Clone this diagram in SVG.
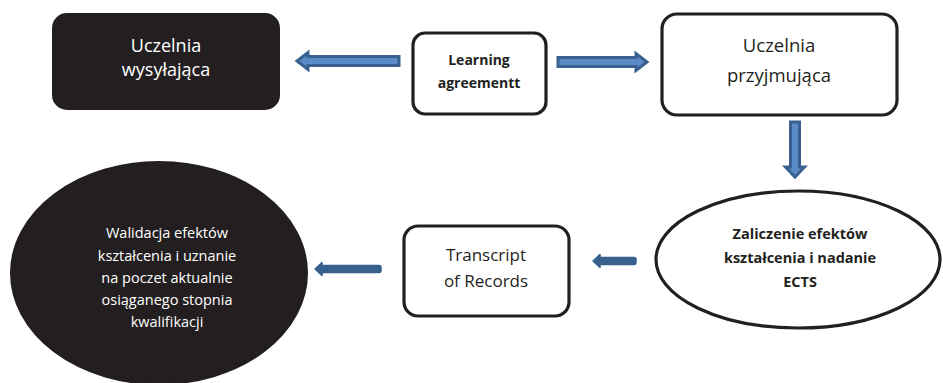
<svg xmlns="http://www.w3.org/2000/svg" width="943" height="383" viewBox="0 0 943 383">
  <style>
    .box { fill: #ffffff; stroke: #231f20; stroke-width: 3.2; }
    .dark { fill: #231f20; stroke: #231f20; stroke-width: 2; }
    .t { font-family: "Open Sans", "Liberation Sans", sans-serif; text-anchor: middle; fill: #231f20; }
    .w { fill: #ffffff; }
    .b { font-weight: bold; }
    .dbl { fill: #5a8bc6; stroke: #386191; stroke-width: 3; stroke-linejoin: miter; }
    .sol { fill: #38608e; stroke: #38608e; stroke-width: 1.5; stroke-linejoin: round; }
  </style>
  <rect width="943" height="383" fill="#ffffff"/>

  <g id="connectors">
    <polygon class="dbl" points="297,61 308,52.5 308,56.5 399,56.5 399,65.5 308,65.5 308,69.5"/>
    <polygon class="dbl" points="558,57.5 636,57.5 636,53.5 647,62 636,70.5 636,66.5 558,66.5"/>
    <polygon class="dbl" points="790.5,122 799.5,122 799.5,167 804.5,167 795,177 785.5,167 790.5,167"/>
    <path class="sol" d="M593,261 L600,254.5 L600,257.5 L634,257.5 Q636,257.5 636,259.5 L636,262.5 Q636,264.5 634,264.5 L600,264.5 L600,267.5 Z"/>
    <path class="sol" d="M315,269 L322,262.5 L322,265.5 L379,265.5 Q381,265.5 381,267.5 L381,270.5 Q381,272.5 379,272.5 L322,272.5 L322,275.5 Z"/>
  </g>

  <g id="node-wysylajaca">
    <rect class="dark" x="53" y="14" width="226" height="95" rx="14"/>
    <text class="t w" x="166" y="52" font-size="18">Uczelnia</text>
    <text class="t w" x="166" y="76" font-size="18">wysyłająca</text>
  </g>

  <g id="node-learning">
    <rect class="box" x="413" y="33" width="133" height="81" rx="12"/>
    <text class="t b" x="479" y="65" font-size="14">Learning</text>
    <text class="t b" x="479" y="88" font-size="14">agreementt</text>
  </g>

  <g id="node-przyjmujaca">
    <rect class="box" x="662" y="14" width="235" height="101" rx="15"/>
    <text class="t" x="779" y="52" font-size="18.5">Uczelnia</text>
    <text class="t" x="779" y="82" font-size="18.5">przyjmująca</text>
  </g>

  <g id="node-zaliczenie">
    <ellipse class="box" cx="798" cy="259.5" rx="142" ry="68.5"/>
    <text class="t b" x="800" y="239" font-size="14.5">Zaliczenie efektów</text>
    <text class="t b" x="800" y="263" font-size="14.5">kształcenia i nadanie</text>
    <text class="t b" x="800" y="287" font-size="14.5">ECTS</text>
  </g>

  <g id="node-transcript">
    <rect class="box" x="404" y="226" width="165" height="90" rx="14"/>
    <text class="t" x="486" y="261" font-size="17">Transcript</text>
    <text class="t" x="486" y="287" font-size="17">of Records</text>
  </g>

  <g id="node-walidacja">
    <ellipse class="dark" cx="159" cy="273" rx="148" ry="111"/>
    <text class="t w" x="167" y="238" font-size="14.5">Walidacja efektów</text>
    <text class="t w" x="167" y="261" font-size="14.5">kształcenia i uznanie</text>
    <text class="t w" x="167" y="283" font-size="14.5">na poczet aktualnie</text>
    <text class="t w" x="167" y="305" font-size="14.5">osiąganego stopnia</text>
    <text class="t w" x="167" y="327" font-size="14.5">kwalifikacji</text>
  </g>
</svg>
